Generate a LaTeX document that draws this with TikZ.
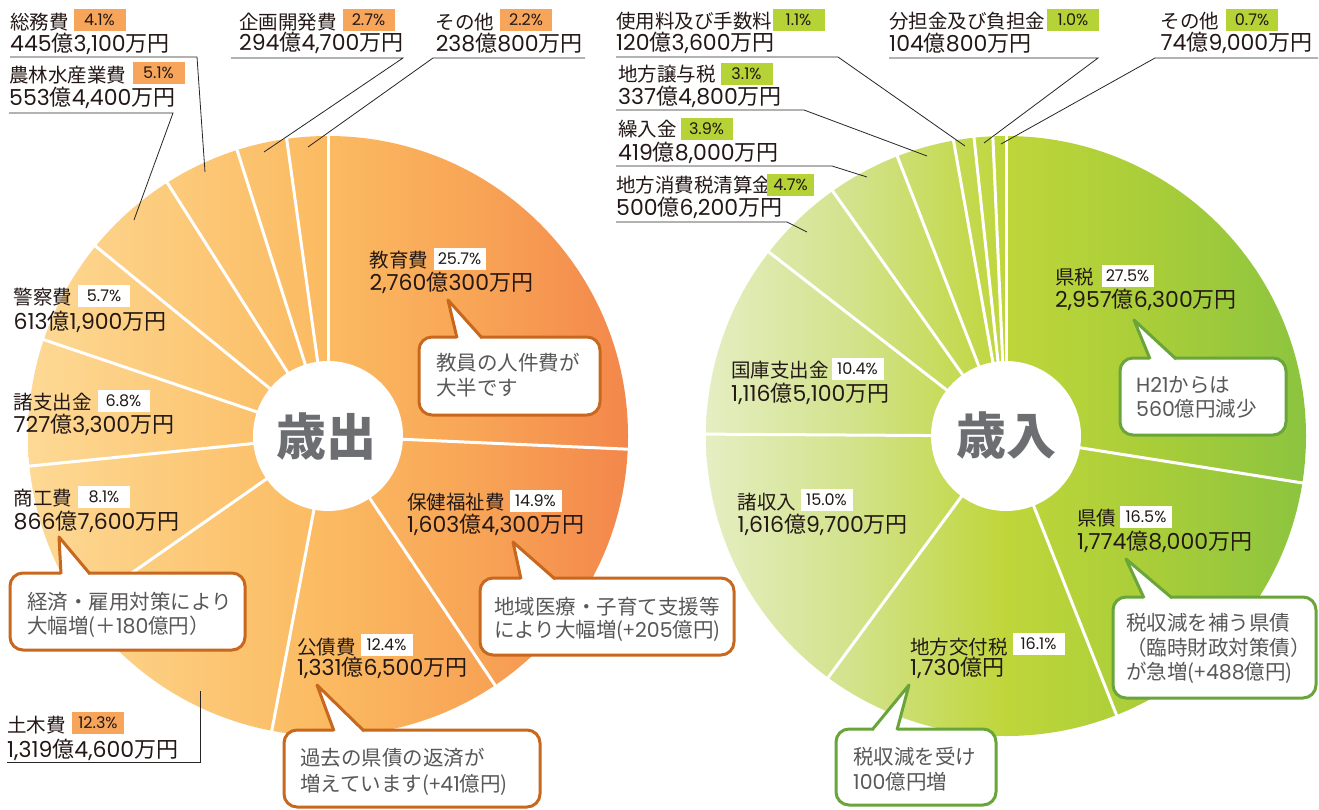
\documentclass[tikz,border=0pt]{standalone}
\usepackage{fontspec}
\setmainfont{Noto Sans CJK JP}
\newfontfamily\lat{Poppins}
\newcommand\dg[1]{{\lat #1}}
\definecolor{txt}{HTML}{231815}
\definecolor{ctxt}{HTML}{595757}
\definecolor{obord}{HTML}{C8671E}
\definecolor{gbord}{HTML}{69A53A}
\definecolor{obox}{HTML}{F6A55B}
\definecolor{gbox}{HTML}{B5D236}
\definecolor{titlec}{HTML}{6D6E71}
\definecolor{lpa}{HTML}{FDD995}
\definecolor{lpb}{HTML}{FCCA7A}
\definecolor{lpc}{HTML}{FBBA61}
\definecolor{lpd}{HTML}{F8A456}
\definecolor{lpe}{HTML}{F3874B}
\definecolor{rpa}{HTML}{E5EEC2}
\definecolor{rpb}{HTML}{D2E28A}
\definecolor{rpc}{HTML}{BFD63A}
\definecolor{rpd}{HTML}{A8CD39}
\definecolor{rpe}{HTML}{8CC43F}
\pgfdeclarehorizontalshading{lpie}{100bp}{color(0bp)=(lpa); color(25bp)=(lpa); color(37.5bp)=(lpb); color(50bp)=(lpc); color(62.5bp)=(lpd); color(75bp)=(lpe); color(100bp)=(lpe)}
\pgfdeclarehorizontalshading{rpie}{100bp}{color(0bp)=(rpa); color(25bp)=(rpa); color(37.5bp)=(rpb); color(50bp)=(rpc); color(62.5bp)=(rpd); color(75bp)=(rpe); color(100bp)=(rpe)}
\newcommand\mycallout[9]{%
  \draw[#1, line width=3, fill=white, rounded corners=13] (#2,#3) rectangle (#4,#5);
  \fill[white] (#8,#3+2.5) -- (#6,#7) -- (#9,#3+2.5) -- cycle;
  \draw[#1, line width=3, line join=round] (#8,#3+1) -- (#6,#7) -- (#9,#3+1);
}
\tikzset{
  nm/.style={anchor=west, inner sep=0, font=\fontsize{19.5}{22}\selectfont, text=txt},
  am/.style={anchor=west, inner sep=0, font=\fontsize{22}{24}\selectfont, text=txt},
  pcbox/.style={inner xsep=3, inner ysep=0, minimum width=52, minimum height=22, font=\lat\fontsize{16}{17}\selectfont, text=txt},
  pcw/.style={pcbox, fill=white},
  pco/.style={pcbox, fill=obox},
  pcg/.style={pcbox, fill=gbox},
  ct/.style={anchor=west, inner sep=0, font=\fontsize{20.5}{24}\selectfont, text=ctxt},
  leader/.style={draw=black!85, line width=0.8},
  sepline/.style={draw=white, line width=3},
  titletext/.style={font=\bfseries\fontsize{50}{50}\selectfont, text=titlec}
}
\begin{document}
\begin{tikzpicture}[x=1pt,y=-1pt]
\useasboundingbox (0,0) rectangle (1319,809);
\fill[white] (0,0) rectangle (1319,809);
% ---------- left pie ----------
\coordinate (Lc) at (328,436);
\shade[shading=lpie] (Lc) circle[radius=300];
\foreach \a in {-90,2.52,56.16,100.8,145.08,174.24,198.72,219.24,237.6,252.36,262.08}
  \draw[sepline] (Lc) -- ++(\a:302);
\fill[white] (Lc) circle[radius=75];
\node[titletext] (sai) at (326,436) {歳出};
% ---------- right pie ----------
\coordinate (Rc) at (1006,436);
\shade[shading=rpie] (Rc) circle[radius=300];
\foreach \a in {-90,9,68.4,126.36,180.36,217.8,234.72,248.76,259.92,263.88,267.48}
  \draw[sepline] (Rc) -- ++(\a:302);
\fill[white] (Rc) circle[radius=75];
\node[titletext] (sainyu) at (1006,435) {歳入};
% ---------- left labels ----------
\node[nm] (somu) at (10,22) {総務費};
\node[pco] (somup) at (99.5,19.5) {4.1\%};
\node[am] (somua) at (10,44) {\dg{445}億\dg{3,100}万円};
\node[nm] (nourin) at (9,75) {農林水産業費};
\node[pco] (nourinp) at (158.5,72.5) {5.1\%};
\node[am] (nourina) at (9,98) {\dg{553}億\dg{4,400}万円};
\node[nm] (kikaku) at (239,22) {企画開発費};
\node[pco] (kikakup) at (368.5,20) {2.7\%};
\node[am] (kikakua) at (239,43) {\dg{294}億\dg{4,700}万円};
\node[nm] (sonotaL) at (435.6,22) {その他};
\node[pco] (sonotaLp) at (526,20) {2.2\%};
\node[am] (sonotaLa) at (435.6,43) {\dg{238}億\dg{800}万円};
\node[nm] (kyoiku) at (369.5,260) {教育費};
\node[pcw] (kyoikup) at (459.5,259) {25.7\%};
\node[am] (kyoikua) at (369.5,283) {\dg{2,760}億\dg{300}万円};
\node[nm] (keisatsu) at (13.5,297) {警察費};
\node[pcw] (keisatsup) at (104,296) {5.7\%};
\node[am] (keisatsua) at (13.5,322) {\dg{613}億\dg{1,900}万円};
\node[nm] (shoshi) at (13.5,402) {諸支出金};
\node[pcw] (shoship) at (123.5,401) {6.8\%};
\node[am] (shoshia) at (13.5,425) {\dg{727}億\dg{3,300}万円};
\node[nm] (shoko) at (13.5,498) {商工費};
\node[pcw] (shokop) at (104,497) {8.1\%};
\node[am] (shokoa) at (13.5,522) {\dg{866}億\dg{7,600}万円};
\node[nm] (hoken) at (407,502) {保健福祉費};
\node[pcw] (hokenp) at (535.5,501) {14.9\%};
\node[am] (hokena) at (407,525) {\dg{1,603}億\dg{4,300}万円};
\node[nm] (kosai) at (297,647) {公債費};
\node[pcw] (kosaip) at (386.5,645) {12.4\%};
\node[am] (kosaia) at (297,668) {\dg{1,331}億\dg{6,500}万円};
\node[nm] (doboku) at (7,725) {土木費};
\node[pco] (dobokup) at (98,723) {12.3\%};
\node[am] (dobokua) at (7,750) {\dg{1,319}億\dg{4,600}万円};
% left leaders
\coordinate (l1a) at (10,57); \coordinate (l1b) at (197,57); \coordinate (l1c) at (205,172);
\draw[leader] (l1a) -- (l1b) -- (l1c);
\coordinate (l2a) at (9,113); \coordinate (l2b) at (173,113); \coordinate (l2c) at (134,220);
\draw[leader] (l2a) -- (l2b) -- (l2c);
\coordinate (l3a) at (231,58); \coordinate (l3b) at (403,58); \coordinate (l3c) at (264,152);
\draw[leader] (l3a) -- (l3b) -- (l3c);
\coordinate (l4a) at (585,58); \coordinate (l4b) at (433,58); \coordinate (l4c) at (308,147);
\draw[leader] (l4a) -- (l4b) -- (l4c);
\coordinate (l5a) at (7,762); \coordinate (l5b) at (200,762); \coordinate (l5c) at (200,691);
\draw[leader] (l5a) -- (l5b) -- (l5c);
% ---------- right labels ----------
\node[nm] (shiyo) at (616,21) {使用料及び手数料};
\node[pcg] (shiyop) at (798.5,20) {1.1\%};
\node[am] (shiyoa) at (616,43) {\dg{120}億\dg{3,600}万円};
\node[nm] (buntan) at (889,21) {分担金及び負担金};
\node[pcg] (buntanp) at (1073,20) {1.0\%};
\node[am] (buntana) at (889,43) {\dg{104}億\dg{800}万円};
\node[nm] (sonotaR) at (1160.5,21) {その他};
\node[pcg] (sonotaRp) at (1252,20) {0.7\%};
\node[am] (sonotaRa) at (1160.5,43) {\dg{74}億\dg{9,000}万円};
\node[nm] (joyo) at (618,74) {地方譲与税};
\node[pcg] (joyop) at (746.5,74) {3.1\%};
\node[am] (joyoa) at (618,97) {\dg{337}億\dg{4,800}万円};
\node[nm] (kurii) at (618,129) {繰入金};
\node[pcg] (kuriip) at (706.5,129) {3.9\%};
\node[am] (kuriia) at (618,153) {\dg{419}億\dg{8,000}万円};
\node[nm] (shohi) at (616,185) {地方消費税清算金};
\node[pcg, minimum width=47] (shohip) at (790.5,185) {4.7\%};
\node[am] (shohia) at (616,208) {\dg{500}億\dg{6,200}万円};
\node[nm] (kenzei) at (1055,277) {県税};
\node[pcw] (kenzeip) at (1127.5,276) {27.5\%};
\node[am] (kenzeia) at (1055,300) {\dg{2,957}億\dg{6,300}万円};
\node[nm] (kokko) at (731,370) {国庫支出金};
\node[pcw] (kokkop) at (857.5,369) {10.4\%};
\node[am] (kokkoa) at (731,394) {\dg{1,116}億\dg{5,100}万円};
\node[nm] (shoshu) at (737.5,502) {諸収入};
\node[pcw] (shoshup) at (826.5,500) {15.0\%};
\node[am] (shoshua) at (737.5,525) {\dg{1,616}億\dg{9,700}万円};
\node[nm] (kensai) at (1077,518) {県債};
\node[pcw] (kensaip) at (1146,517) {16.5\%};
\node[am] (kensaia) at (1077,542) {\dg{1,774}億\dg{8,000}万円};
\node[nm] (kofu) at (910,647) {地方交付税};
\node[pcw] (kofup) at (1038.5,644) {16.1\%};
\node[am] (kofua) at (910,668) {\dg{1,730}億円};
% right leaders
\coordinate (r1a) at (616,57); \coordinate (r1b) at (838,57); \coordinate (r1c) at (965,146);
\draw[leader] (r1a) -- (r1b) -- (r1c);
\coordinate (r2a) at (616,110); \coordinate (r2b) at (804,110); \coordinate (r2c) at (927,156);
\draw[leader] (r2a) -- (r2b) -- (r2c);
\coordinate (r3a) at (616,166); \coordinate (r3b) at (832,166); \coordinate (r3c) at (867,177);
\draw[leader] (r3a) -- (r3b) -- (r3c);
\coordinate (r4a) at (616,222); \coordinate (r4b) at (787,222); \coordinate (r4c) at (807,232);
\draw[leader] (r4a) -- (r4b) -- (r4c);
\coordinate (r5a) at (889,58); \coordinate (r5b) at (1098,58); \coordinate (r5c) at (984,143);
\draw[leader] (r5a) -- (r5b) -- (r5c);
\coordinate (r6a) at (1318,58); \coordinate (r6b) at (1155,58); \coordinate (r6c) at (1001,144);
\draw[leader] (r6a) -- (r6b) -- (r6c);
% ---------- callouts ----------
\mycallout{obord}{419}{337}{600}{415}{448}{300}{457}{482}
\node[ct] (c1a) at (436,363) {教員の人件費が};
\node[ct] (c1b) at (436,388) {大半です};
\mycallout{obord}{10}{573}{245}{650}{59}{537}{61}{90}
\node[ct] (c2a) at (27,602) {経済・雇用対策により};
\node[ct] (c2b) at (27,627) {大幅増(＋\dg{180}億円）};
\mycallout{obord}{480}{578}{734}{655}{513}{542}{521}{555}
\node[ct] (c3a) at (494,607) {地域医療・子育て支援等};
\node[ct] (c3b) at (494,631) {により大幅増(+\dg{205}億円)};
\mycallout{obord}{284}{730}{540}{807}{317}{685}{334}{364}
\node[ct] (c4a) at (300,758) {過去の県債の返済が};
\node[ct] (c4b) at (300,785) {増えています(+\dg{41}億円)};
\mycallout{gbord}{1120}{358}{1286}{435}{1134}{320}{1150}{1176}
\node[ct] (c5a) at (1136,385) {\dg{H21}からは};
\node[ct] (c5b) at (1136,409) {\dg{560}億円減少};
\mycallout{gbord}{836}{729}{996}{805}{909}{685}{872}{897}
\node[ct] (c6a) at (853,757) {税収減を受け};
\node[ct] (c6b) at (853,782) {\dg{100}億円増};
\mycallout{gbord}{1113}{597}{1316}{698}{1126}{559}{1144}{1172}
\node[ct] (c7a) at (1126,623) {税収減を補う県債};
\node[ct] (c7b) at (1126,648) {（臨時財政対策債）};
\node[ct] (c7c) at (1126,673) {が急増(+\dg{488}億円)};
\end{tikzpicture}
\end{document}
